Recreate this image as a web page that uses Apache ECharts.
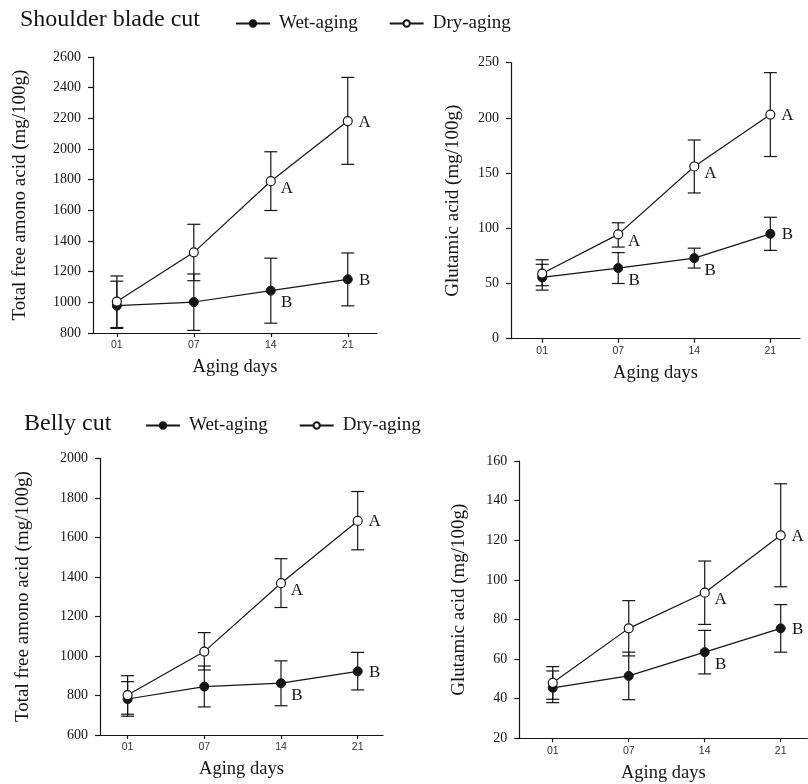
<!DOCTYPE html>
<html>
<head>
<meta charset="utf-8">
<script src="https://cdn.jsdelivr.net/npm/echarts@6/dist/echarts.min.js"></script>
<style>html,body{margin:0;padding:0;background:#fff}#c{width:808px;height:784px}</style>
</head>
<body>
<div id="c"></div>
<script>
// ---- data ----
var days = ['01', '07', '14', '21'];
var seriesNames = ['Wet-aging', 'Dry-aging'];
var panelTitles = ['Shoulder blade cut', 'Belly cut'];
var yNames = ['Total free amono acid (mg/100g)', 'Glutamic acid (mg/100g)', 'Total free amono acid (mg/100g)', 'Glutamic acid (mg/100g)'];

// Panel 1: shoulder blade, total free amino acid
var p1Wet = [978, 1002, 1076, 1150];
var p1WetHi = [1138, 1185, 1288, 1322];
var p1WetLo = [830, 817, 864, 977];
var p1Dry = [1005, 1326, 1790, 2182];
var p1DryHi = [1172, 1509, 1982, 2467];
var p1DryLo = [836, 1141, 1599, 1900];
var p1WetLetters = ['', '', 'B', 'B'];
var p1DryLetters = ['', '', 'A', 'A'];

// Panel 2: shoulder blade, glutamic acid
var p2Wet = [55.5, 64, 73, 95];
var p2WetHi = [67.4, 78, 82, 110];
var p2WetLo = [44, 50, 64, 80];
var p2Dry = [59, 94.5, 156, 203];
var p2DryHi = [71.5, 105, 180, 241];
var p2DryLo = [48, 83, 132, 165];
var p2WetLetters = ['', 'B', 'B', 'B'];
var p2DryLetters = ['', 'A', 'A', 'A'];

// Panel 3: belly, total free amino acid
var p3Wet = [782, 845, 862, 922];
var p3WetHi = [870, 949, 975, 1018];
var p3WetLo = [695, 742, 748, 828];
var p3Dry = [802, 1022, 1368, 1683];
var p3DryHi = [900, 1118, 1492, 1832];
var p3DryLo = [705, 929, 1245, 1537];
var p3WetLetters = ['', '', 'B', 'B'];
var p3DryLetters = ['', '', 'A', 'A'];

// Panel 4: belly, glutamic acid
var p4Wet = [45.5, 51.5, 63.5, 75.5];
var p4WetHi = [54, 63.5, 74.5, 87.5];
var p4WetLo = [38, 39.5, 52.5, 63.5];
var p4Dry = [48, 75.5, 93.5, 122.5];
var p4DryHi = [56.2, 89.5, 109.5, 148.5];
var p4DryLo = [39.7, 61.6, 77.5, 96.5];
var p4WetLetters = ['', '', 'B', 'B'];
var p4DryLetters = ['', '', 'A', 'A'];

var yMin = [800, 0, 600, 20];
var yMax = [2600, 250, 2000, 160];
var yStep = [200, 50, 200, 20];

// ---- layout / style ----
var SERIF = "'Liberation Serif', 'Times New Roman', serif";
var SANS = "'Liberation Sans', Arial, sans-serif";
var INK = '#151515';
var grids = [
  {left: 93, top: 57, width: 284, height: 276},
  {left: 511, top: 62.7, width: 289, height: 276},
  {left: 100, top: 458.3, width: 283, height: 276.7},
  {left: 519.3, top: 461, width: 288, height: 277.3}
];
var xRange = [[-0.31, 3.38], [-0.41, 3.39], [-0.36, 3.33], [-0.44, 3.35]];
var yNameGap = [63, 48, 67, 51];

var panels = [
  {wet: p1Wet, wetHi: p1WetHi, wetLo: p1WetLo, dry: p1Dry, dryHi: p1DryHi, dryLo: p1DryLo, wl: p1WetLetters, dl: p1DryLetters},
  {wet: p2Wet, wetHi: p2WetHi, wetLo: p2WetLo, dry: p2Dry, dryHi: p2DryHi, dryLo: p2DryLo, wl: p2WetLetters, dl: p2DryLetters},
  {wet: p3Wet, wetHi: p3WetHi, wetLo: p3WetLo, dry: p3Dry, dryHi: p3DryHi, dryLo: p3DryLo, wl: p3WetLetters, dl: p3DryLetters},
  {wet: p4Wet, wetHi: p4WetHi, wetLo: p4WetLo, dry: p4Dry, dryHi: p4DryHi, dryLo: p4DryLo, wl: p4WetLetters, dl: p4DryLetters}
];

function errRender(params, api) {
  var x = api.value(0);
  var pLo = api.coord([x, api.value(1)]);
  var pHi = api.coord([x, api.value(2)]);
  var w = 6.5;
  var st = {stroke: INK, lineWidth: 1.2};
  return {type: 'group', children: [
    {type: 'line', shape: {x1: pLo[0], y1: pLo[1], x2: pHi[0], y2: pHi[1]}, style: st},
    {type: 'line', shape: {x1: pHi[0] - w, y1: pHi[1], x2: pHi[0] + w, y2: pHi[1]}, style: st},
    {type: 'line', shape: {x1: pLo[0] - w, y1: pLo[1], x2: pLo[0] + w, y2: pLo[1]}, style: st}
  ]};
}

function lineData(vals, letters) {
  return vals.map(function (v, i) {
    var letter = letters[i];
    var off = (i === vals.length - 1) ? [17, 1] : [16, letter === 'B' ? 12 : 7];
    return {value: [i, v], label: {show: !!letter, formatter: letter, offset: off}};
  });
}

var xAxes = [], yAxes = [], series = [];
panels.forEach(function (p, k) {
  xAxes.push({
    type: 'value', gridIndex: k, min: xRange[k][0], max: xRange[k][1],
    name: 'Aging days', nameLocation: 'middle', nameGap: 25,
    nameTextStyle: {fontFamily: SERIF, fontSize: 18.5, color: INK},
    axisLine: {show: true, onZero: false, lineStyle: {color: INK, width: 1.2}},
    axisTick: {show: true, length: 4, customValues: [0, 1, 2, 3], lineStyle: {color: INK, width: 1.2}},
    axisLabel: {customValues: [0, 1, 2, 3], formatter: function (v) { return days[Math.round(v)]; },
      fontFamily: SANS, fontSize: 10.5, color: '#333', margin: 7},
    splitLine: {show: false}
  });
  yAxes.push({
    type: 'value', gridIndex: k, min: yMin[k], max: yMax[k], interval: yStep[k],
    name: yNames[k], nameLocation: 'middle', nameGap: yNameGap[k], nameRotate: 90,
    nameTextStyle: {fontFamily: SERIF, fontSize: 19, color: INK},
    axisLine: {show: true, onZero: false, lineStyle: {color: INK, width: 1.2}},
    axisTick: {show: true, length: 5, lineStyle: {color: INK, width: 1.2}},
    axisLabel: {fontFamily: SERIF, fontSize: 14, color: INK, margin: 12,
      formatter: function (v) { return String(v); }},
    splitLine: {show: false}
  });
  var errs = [
    [p.wet, p.wetLo, p.wetHi],
    [p.dry, p.dryLo, p.dryHi]
  ];
  errs.forEach(function (e) {
    series.push({
      type: 'custom', xAxisIndex: k, yAxisIndex: k, z: 1, silent: true,
      renderItem: errRender, encode: {x: 0, y: [1, 2]},
      data: e[0].map(function (v, i) { return [i, e[1][i], e[2][i]]; })
    });
  });
  var lbl = {position: 'inside', fontFamily: SERIF, fontSize: 17, color: INK};
  series.push({
    name: seriesNames[0], type: 'line', xAxisIndex: k, yAxisIndex: k, z: 3,
    symbol: 'circle', symbolSize: 9,
    lineStyle: {color: INK, width: 1.2},
    itemStyle: {color: INK, borderColor: INK, borderWidth: 1},
    label: lbl,
    data: lineData(p.wet, p.wl)
  });
  series.push({
    name: seriesNames[1], type: 'line', xAxisIndex: k, yAxisIndex: k, z: 4,
    symbol: 'circle', symbolSize: 9,
    lineStyle: {color: INK, width: 1.2},
    itemStyle: {color: '#fff', borderColor: INK, borderWidth: 1.2},
    label: lbl,
    data: lineData(p.dry, p.dl)
  });
});

var legendCommon = {
  data: seriesNames, itemWidth: 34, itemHeight: 8, itemGap: 31, selectedMode: false, padding: 0,
  textStyle: {fontFamily: SERIF, fontSize: 19, color: INK, padding: [0, 0, 0, 4]}
};

var option = {
  animation: false,
  backgroundColor: '#fff',
  title: [
    {text: panelTitles[0], left: 15, top: 3, textStyle: {fontFamily: SERIF, fontSize: 24, fontWeight: 'normal', color: INK}},
    {text: panelTitles[1], left: 19, top: 407, textStyle: {fontFamily: SERIF, fontSize: 24, fontWeight: 'normal', color: INK}}
  ],
  legend: [
    Object.assign({left: 235, top: 14}, legendCommon),
    Object.assign({left: 145, top: 416}, legendCommon)
  ],
  grid: grids,
  xAxis: xAxes,
  yAxis: yAxes,
  series: series
};

var chart = echarts.init(document.getElementById('c'), null, {renderer: 'canvas'});
chart.setOption(option);
</script>
</body>
</html>
